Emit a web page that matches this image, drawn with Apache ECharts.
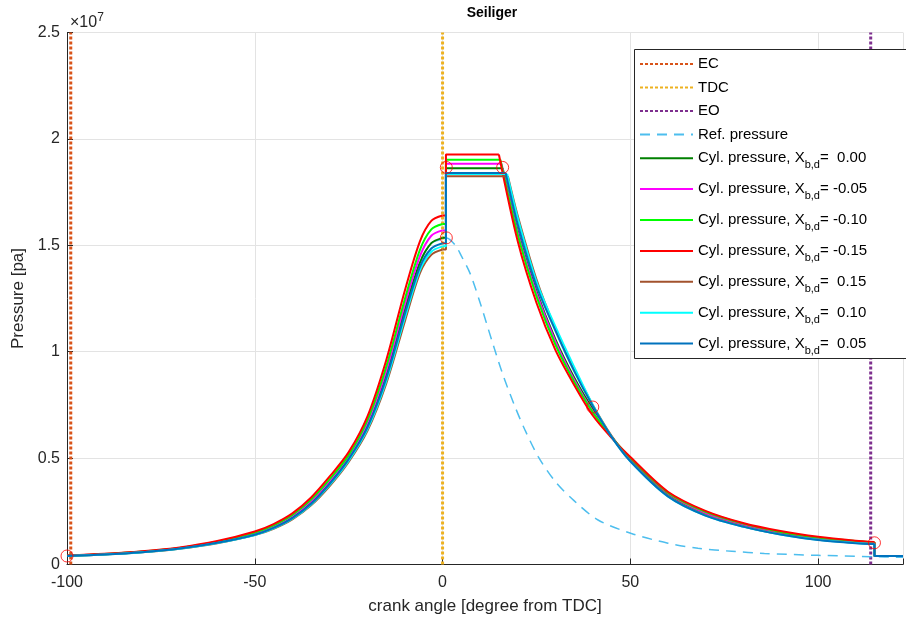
<!DOCTYPE html>
<html>
<head>
<meta charset="utf-8">
<script src="https://cdn.jsdelivr.net/npm/echarts@6/dist/echarts.min.js"></script>
<style>
html,body{margin:0;padding:0;background:#fff;}
#chart{width:906px;height:624px;}
</style>
</head>
<body>
<div id="chart"></div>
<script>
// ---- data (pressures in MPa, angles in degrees from TDC) ----
const ecAngle = -99;
const tdcAngle = 0;
const eoAngle = 114;

const compAngles = [-100,-90,-80,-70,-60,-50,-45,-40,-35,-30,-25,-20,-15,-10,-6,-3,0];
const jumpAngle = 0.9;
const expAngles = [20,25,30,35,40,45,50,60,70,80,90,100,110,115];
const exhaustAngles = [115,122.6];
const exhaustPressure = [0.40,0.40];

const xbdLabels = [' 0.00','-0.05','-0.10','-0.15',' 0.15',' 0.10',' 0.05'];

const comp_000 = [0.41,0.48,0.59,0.76,1.04,1.45,1.77,2.24,2.92,3.87,5.00,6.55,8.95,12.00,14.20,15.10,15.35];
const comp_m005 = [0.41,0.49,0.60,0.77,1.06,1.48,1.80,2.28,2.98,3.94,5.06,6.66,9.10,12.25,14.50,15.45,15.70];
const comp_m010 = [0.41,0.49,0.61,0.78,1.07,1.50,1.84,2.33,3.05,4.02,5.14,6.78,9.30,12.50,14.80,15.75,16.00];
const comp_m015 = [0.42,0.50,0.62,0.80,1.10,1.55,1.90,2.40,3.15,4.15,5.28,6.96,9.60,12.90,15.20,16.15,16.40];
const comp_015 = [0.40,0.47,0.57,0.74,1.00,1.38,1.68,2.12,2.78,3.70,4.82,6.28,8.50,11.45,13.70,14.55,14.80];
const comp_010 = [0.40,0.47,0.58,0.74,1.01,1.39,1.70,2.15,2.82,3.75,4.88,6.36,8.62,11.62,13.85,14.70,14.95];
const comp_005 = [0.40,0.47,0.58,0.75,1.02,1.40,1.72,2.18,2.85,3.80,4.95,6.45,8.75,11.80,14.00,14.85,15.10];

const plateau = [18.62,18.83,19.02,19.27,18.25,18.35,18.40];
const plateauEnd = [16.0,15.7,15.4,15.0,17.4,17.2,16.8];

const exp_000 = [15.7,12.85,10.6,8.8,7.3,6.0,4.95,3.33,2.44,1.89,1.51,1.25,1.08,1.02];
const exp_m005 = [15.6,12.75,10.5,8.7,7.2,6.0,4.95,3.32,2.42,1.87,1.49,1.23,1.06,1.00];
const exp_m010 = [15.5,12.6,10.35,8.6,7.15,6.0,5.0,3.38,2.48,1.92,1.53,1.27,1.10,1.04];
const exp_m015 = [15.2,12.3,10.1,8.45,7.0,5.95,5.05,3.42,2.52,1.95,1.57,1.30,1.12,1.06];
const exp_015 = [16.4,13.4,11.1,9.2,7.5,6.05,4.9,3.25,2.33,1.80,1.43,1.17,1.02,0.97];
const exp_010 = [16.3,13.3,11.2,9.3,7.5,6.0,4.85,3.2,2.3,1.78,1.41,1.16,1.01,0.97];
const exp_005 = [16.0,13.1,11.0,9.1,7.45,6.0,4.85,3.2,2.3,1.78,1.41,1.15,1.00,0.96];

const refAngles = [-100,-90,-80,-70,-60,-50,-45,-40,-35,-30,-25,-20,-15,-10,-6,-3,0,1,3.4,5,7.35,10,13.1,16,19.3,22,25.5,30,35,41.4,50.3,60,68,77,85.7,100,114,122.6];
const refValues = [0.41,0.48,0.59,0.76,1.04,1.45,1.77,2.24,2.92,3.87,5.00,6.55,8.95,12.00,14.20,15.10,15.30,15.35,15.0,14.5,13.67,12.3,10.54,8.95,7.41,6.3,5.06,3.9,3.0,2.09,1.46,1.0,0.76,0.62,0.52,0.43,0.37,0.34];

const markerAngles = [-100,1,1,16,40,115];
const markerValues = [0.40,15.35,18.66,18.66,7.40,1.02];

// ---- build ----
const MPa = 1e6;
const compSets = [comp_000,comp_m005,comp_m010,comp_m015,comp_015,comp_010,comp_005];
const expSets = [exp_000,exp_m005,exp_m010,exp_m015,exp_015,exp_010,exp_005];
const cylColors = ['#008000','#FF00FF','#00FF00','#FF0000','#A2522D','#00FFFF','#0072BD'];
const cylNames = xbdLabels.map(l => 'Cyl. pressure, X_b,d=' + l);

function vline(name, angle, color){
  return {name, type:'line', data:[[angle,0],[angle,25e6]], symbol:'none', silent:true,
    lineStyle:{color, width:3, type:[3,2]}, itemStyle:{color}, z:2};
}

const series = [
  vline('EC', ecAngle, '#D95319'),
  vline('TDC', tdcAngle, '#EDB120'),
  vline('EO', eoAngle, '#7E2F8E'),
  {name:'Ref. pressure', type:'line', symbol:'none', smooth:0.3,
   data: refAngles.map((a,i)=>[a, refValues[i]*MPa]),
   lineStyle:{color:'#4DBEEE', width:1.5, type:[10,7]}, itemStyle:{color:'#4DBEEE'}, z:2}
];
cylNames.forEach((n,k)=>{
  const c = compSets[k], e = expSets[k];
  const ls = {color:cylColors[k], width:2};
  const base = {name:n, type:'line', symbol:'none', lineStyle:ls, itemStyle:{color:cylColors[k]}, z:2};
  // compression
  series.push(Object.assign({}, base, {smooth:0.3,
    data: compAngles.map((a,i)=>[a, c[i]*MPa])}));
  // jump + plateau
  series.push(Object.assign({}, base, {data:[
    [compAngles[compAngles.length-1], c[c.length-1]*MPa],
    [jumpAngle, c[c.length-1]*MPa],
    [jumpAngle, plateau[k]*MPa],
    [plateauEnd[k], plateau[k]*MPa]]}));
  // expansion
  series.push(Object.assign({}, base, {smooth:0.3,
    data: [[plateauEnd[k], plateau[k]*MPa]].concat(expAngles.map((a,i)=>[a, e[i]*MPa]))}));
  // blow-down + exhaust
  series.push(Object.assign({}, base, {data:
    [[expAngles[expAngles.length-1], e[e.length-1]*MPa]].concat(exhaustAngles.map((a,i)=>[a, exhaustPressure[i]*MPa]))}));
});
series.push({name:'markers', type:'scatter', symbol:'circle', symbolSize:12,
  data: markerAngles.map((a,i)=>[a, markerValues[i]*MPa]),
  itemStyle:{color:'rgba(0,0,0,0)', borderColor:'#FF0000', borderWidth:1}, z:3});

const txt = '#262626';
const chart = echarts.init(document.getElementById('chart'), null, {renderer:'canvas'});
chart.setOption({
  animation:false,
  backgroundColor:'#fff',
  title:{text:'Seiliger', left:487, top:1, textAlign:'center',
    textStyle:{fontFamily:'Liberation Sans', fontSize:14, fontWeight:'bold', color:'#000'}},
  grid:{left:67, right:0, top:32.5, bottom:59.5, containLabel:false},
  xAxis:{type:'value', min:-100, max:122.6, interval:50,
    name:'crank angle [degree from TDC]', nameLocation:'middle', nameGap:33,
    nameTextStyle:{fontFamily:'Liberation Sans', fontSize:17, color:txt},
    axisLine:{show:true, onZero:false, lineStyle:{color:txt, width:1}},
    axisTick:{show:true, inside:true, length:6, lineStyle:{color:txt}},
    axisLabel:{fontFamily:'Liberation Sans', fontSize:16, color:txt, margin:10,
      formatter:v => (Math.abs(v % 50) < 1e-9 ? String(v) : '')},
    splitLine:{show:true, lineStyle:{color:'#e3e3e3', width:1}}},
  yAxis:{type:'value', min:0, max:25e6, interval:5e6,
    name:'Pressure [pa]', nameLocation:'middle', nameGap:36, nameRotate:90,
    nameTextStyle:{fontFamily:'Liberation Sans', fontSize:17, color:txt},
    axisLine:{show:true, onZero:false, lineStyle:{color:txt, width:1}},
    axisTick:{show:true, inside:true, length:6, lineStyle:{color:txt}},
    axisLabel:{fontFamily:'Liberation Sans', fontSize:16, color:txt, margin:7, padding:[4,0,0,0],
      formatter:v => String(+(v/1e7).toFixed(1)).replace(/\.0$/,'')},
    splitLine:{show:true, lineStyle:{color:'#e3e3e3', width:1}}},
  legend:[
    {data:['EC','TDC','EO','Ref. pressure'], orient:'vertical', left:639, top:56, padding:0,
     itemWidth:53, itemHeight:10, itemGap:7.5, selectedMode:false, itemStyle:{opacity:0},
     textStyle:{fontFamily:'Liberation Sans', fontSize:15, color:'#000', lineHeight:16}},
    {data:cylNames, orient:'vertical', left:639, top:145.7, padding:0,
     itemWidth:53, itemHeight:10, itemGap:5.9, selectedMode:false, itemStyle:{opacity:0},
     formatter: name => {
       const k = cylNames.indexOf(name);
       return '{m|Cyl. pressure, X}{s|b,d}{m|= ' + xbdLabels[k] + '}';
     },
     textStyle:{fontFamily:'Liberation Sans', fontSize:15, color:'#000',
       rich:{m:{fontFamily:'Liberation Sans', fontSize:15, lineHeight:16, color:'#000'},
             s:{fontFamily:'Liberation Sans', fontSize:11, lineHeight:10, padding:[14,0,0,0], color:'#000'}}}}
  ],
  graphic:[
    {type:'rect', z:3, shape:{x:634.5, y:49.5, width:275, height:309},
     style:{fill:'#fff', stroke:txt, lineWidth:1}},
    {type:'text', left:70, top:12, z:5,
     style:{text:'×10{s|7}', fontFamily:'Liberation Sans', fontSize:16, fill:txt,
       rich:{s:{fontSize:12, padding:[0,0,10,0], fill:txt}}}}
  ],
  series
});
</script>
</body>
</html>
